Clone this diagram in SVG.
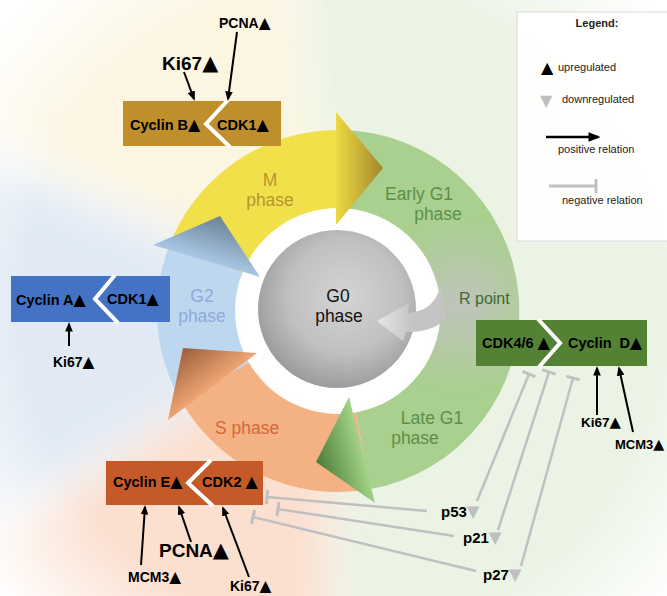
<svg xmlns="http://www.w3.org/2000/svg" width="667" height="596" viewBox="0 0 667 596">
<defs>
<style>
.bx{font-family:"Liberation Sans",Arial,sans-serif;font-weight:bold;font-size:14.5px;fill:#000}
.lb{font-family:"Liberation Sans",Arial,sans-serif;font-weight:bold;font-size:14px;fill:#000}
.t{font-family:"DejaVu Sans",sans-serif;font-size:1.1em}
.ph{font-family:"Liberation Sans",Arial,sans-serif;font-size:17.5px}
.lg{font-family:"Liberation Sans",Arial,sans-serif;font-size:11px;fill:#222}
.pos{stroke:#000;stroke-width:2;fill:none;marker-end:url(#ah)}
.neg{stroke:#C0C0C0;stroke-width:2.5;fill:none;marker-end:url(#bar)}
.chev{fill:none;stroke:#fff;stroke-width:4}
</style>
<marker id="ah" viewBox="0 0 10 8" refX="8" refY="4" markerWidth="4.8" markerHeight="3.8" orient="auto"><path d="M0,0 L10,4 L0,8 z" fill="#000"/></marker>
<marker id="bar" viewBox="0 0 4 16" refX="2" refY="8" markerWidth="4" markerHeight="16" markerUnits="userSpaceOnUse" orient="auto"><path d="M2,1 L2,15" stroke="#C0C0C0" stroke-width="3"/></marker>
<filter id="blur" x="-20%" y="-20%" width="140%" height="140%"><feGaussianBlur stdDeviation="22"/></filter>
<filter id="blur2" x="-30%" y="-30%" width="160%" height="160%"><feGaussianBlur stdDeviation="8"/></filter>
<radialGradient id="fadeG" cx="338" cy="311" r="440" gradientUnits="userSpaceOnUse"><stop offset="0" stop-color="#fff"/><stop offset="0.72" stop-color="#fff"/><stop offset="1" stop-color="#000"/></radialGradient>
<mask id="fade"><rect x="0" y="0" width="667" height="596" fill="url(#fadeG)"/></mask>
<linearGradient id="gY" x1="337" y1="168" x2="383" y2="168" gradientUnits="userSpaceOnUse"><stop offset="0" stop-color="#ECD843"/><stop offset="1" stop-color="#A4862C"/></linearGradient>
<linearGradient id="gG" x1="362" y1="450" x2="316" y2="462" gradientUnits="userSpaceOnUse"><stop offset="0" stop-color="#A2D387"/><stop offset="1" stop-color="#4B7B38"/></linearGradient>
<linearGradient id="gO" x1="212" y1="386" x2="183" y2="348" gradientUnits="userSpaceOnUse"><stop offset="0" stop-color="#EEA472"/><stop offset="1" stop-color="#9B5F3C"/></linearGradient>
<linearGradient id="gB" x1="206" y1="261" x2="220" y2="216" gradientUnits="userSpaceOnUse"><stop offset="0" stop-color="#A9C7E4"/><stop offset="1" stop-color="#6B8196"/></linearGradient>
<radialGradient id="gG0" cx="0.55" cy="0.42" r="0.6"><stop offset="0" stop-color="#D4D4D4"/><stop offset="0.6" stop-color="#C0C0C0"/><stop offset="1" stop-color="#9A9A9A"/></radialGradient>
<linearGradient id="gR" x1="377" y1="0" x2="412" y2="0" gradientUnits="userSpaceOnUse"><stop offset="0" stop-color="#E6E6E6"/><stop offset="1" stop-color="#C4C4C4"/></linearGradient>
<radialGradient id="gGray" cx="462" cy="305" r="90" gradientUnits="userSpaceOnUse"><stop offset="0" stop-color="#C2C2C2" stop-opacity="0.9"/><stop offset="1" stop-color="#C2C2C2" stop-opacity="0"/></radialGradient>
<clipPath id="clipGreen"><path d="M338,130 A181,181 0 0 1 369.4,489.3 L355.9,412.4 A103,103 0 0 0 338,208 Z"/></clipPath>
</defs>

<rect width="667" height="596" fill="#fff"/>

<g id="background" mask="url(#fade)">
<g filter="url(#blur)">
<polygon points="338,311 275,-300 1100,-300 1100,900 332,900" fill="#EAF3E4"/>
<polygon points="338,311 312,900 -400,900 -400,810" fill="#FBDFCF"/>
<polygon points="338,311 -400,760 -400,-10" fill="#E1EAF4"/>
<polygon points="338,311 -400,-60 -400,-300 252,-300" fill="#FBF5E1"/>
</g>
</g>
<circle cx="338" cy="311" r="112" fill="#fff" filter="url(#blur2)"/>

<g id="ring">
<path id="band-m" d="M167.9,249.1 A181,181 0 0 1 338,130 L338,208 A103,103 0 0 0 241.2,275.8 Z" fill="#F2E04B"/>
<path id="band-g1" d="M338,130 A181,181 0 0 1 369.4,489.3 L355.9,412.4 A103,103 0 0 0 338,208 Z" fill="#A9D08E"/>
<ellipse cx="462" cy="305" rx="90" ry="90" fill="url(#gGray)" clip-path="url(#clipGreen)"/>
<path id="band-s" d="M369.4,489.3 A181,181 0 0 1 181.3,401.5 L248.8,362.5 A103,103 0 0 0 355.9,412.4 Z" fill="#F4B183"/>
<path id="band-g2" d="M181.3,401.5 A181,181 0 0 1 170.2,243.2 L242.5,272.4 A103,103 0 0 0 248.8,362.5 Z" fill="#BDD7EE"/>
<polygon id="head-m" points="336,112 383,168 336,225" fill="url(#gY)"/>
<polygon id="head-g1" points="349,397 316,462 375,503" fill="url(#gG)"/>
<polygon id="head-s" points="257,353 183,348 168,420" fill="url(#gO)"/>
<polygon id="head-g2" points="260,277 220,216 153,245" fill="url(#gB)"/>
</g>

<g id="g0">
<circle cx="337" cy="309" r="79" fill="url(#gG0)"/>
<text class="ph" text-anchor="middle" fill="#111"><tspan x="338" y="302">G0</tspan><tspan x="339" y="322">phase</tspan></text>
</g>

<g id="rpoint">
<path d="M441,283 Q436,311 408,313 L409,303 L377,321 L403,341 L406,332 Q435,332 446,318 Z" fill="url(#gR)"/>
<text class="ph" x="459" y="304" fill="#3F6A35" style="font-size:16px">R point</text>
</g>

<g id="phase-labels">
<text class="ph" text-anchor="middle" fill="#B8952F"><tspan x="270" y="186">M</tspan><tspan x="270" y="206">phase</tspan></text>
<text class="ph" text-anchor="middle" fill="#5E8F49"><tspan x="419" y="200">Early G1</tspan><tspan x="438" y="220">phase</tspan></text>
<text class="ph" text-anchor="middle" fill="#8FAADC"><tspan x="202" y="302">G2</tspan><tspan x="202" y="322">phase</tspan></text>
<text class="ph" x="215" y="434" fill="#D2683A">S phase</text>
<text class="ph" text-anchor="middle" fill="#5E8F49"><tspan x="432" y="424">Late G1</tspan><tspan x="415" y="444">phase</tspan></text>
</g>

<g id="cyclinB-CDK1">
<rect x="123" y="101" width="158" height="45" fill="#BF8F2C"/>
<polyline class="chev" points="228,100 206,124 230,147"/>
<text class="bx" x="130" y="130">Cyclin B<tspan class="t">▲</tspan></text>
<text class="bx" x="217" y="130">CDK1<tspan class="t">▲</tspan></text>
</g>

<g id="cyclinA-CDK1">
<rect x="11" y="276" width="159" height="46" fill="#4472C4"/>
<polyline class="chev" points="115,275 95,299 118,323"/>
<text class="bx" x="16" y="305">Cyclin A<tspan class="t">▲</tspan></text>
<text class="bx" x="107" y="304">CDK1<tspan class="t">▲</tspan></text>
</g>

<g id="cdk46-cyclinD">
<rect x="476" y="320" width="171" height="46" fill="#548235"/>
<polyline class="chev" points="538,319 560,343 539,367"/>
<text class="bx" x="482" y="348">CDK4/6 <tspan class="t">▲</tspan></text>
<text class="bx" x="568" y="348" style="white-space:pre">Cyclin  D<tspan class="t">▲</tspan></text>
</g>

<g id="cyclinE-CDK2">
<rect x="106" y="461" width="157" height="44" fill="#C55A28"/>
<polyline class="chev" points="211,460 188,483 213,506"/>
<text class="bx" x="113" y="487">Cyclin E<tspan class="t">▲</tspan></text>
<text class="bx" x="202" y="487">CDK2 <tspan class="t">▲</tspan></text>
</g>

<g id="markers-labels">
<text class="lb" x="162" y="70" style="font-size:19px">Ki67<tspan class="t">▲</tspan></text>
<text class="lb" x="219" y="28">PCNA<tspan class="t">▲</tspan></text>
<text class="lb" x="53" y="367">Ki67<tspan class="t">▲</tspan></text>
<text class="lb" x="581" y="427" style="font-size:13.5px">Ki67<tspan class="t">▲</tspan></text>
<text class="lb" x="615" y="449" style="font-size:13px">MCM3<tspan class="t">▲</tspan></text>
<text class="lb" x="128" y="582">MCM3<tspan class="t">▲</tspan></text>
<text class="lb" x="159" y="557" style="font-size:19px">PCNA<tspan class="t">▲</tspan></text>
<text class="lb" x="230" y="591">Ki67<tspan class="t">▲</tspan></text>
<text class="lb" x="441" y="517" style="font-size:15px">p53<tspan class="t" fill="#BFBFBF">▼</tspan></text>
<text class="lb" x="463" y="543" style="font-size:15px">p21<tspan class="t" fill="#BFBFBF">▼</tspan></text>
<text class="lb" x="483" y="580" style="font-size:15px">p27<tspan class="t" fill="#BFBFBF">▼</tspan></text>
</g>

<g id="connectors">
<line class="pos" x1="184" y1="72" x2="194" y2="99"/>
<line class="pos" x1="237" y1="32" x2="228" y2="99"/>
<line class="pos" x1="69" y1="346" x2="69" y2="324"/>
<line class="pos" x1="597" y1="415" x2="597" y2="368"/>
<line class="pos" x1="633" y1="432" x2="619" y2="368"/>
<line class="pos" x1="141" y1="565" x2="145" y2="507"/>
<line class="pos" x1="191" y1="542" x2="179" y2="507"/>
<line class="pos" x1="249" y1="577" x2="223" y2="508"/>
<line class="neg" x1="427" y1="511" x2="267" y2="497"/>
<line class="neg" x1="454" y1="536" x2="278" y2="509"/>
<line class="neg" x1="476" y1="571" x2="253" y2="517"/>
<line class="neg" x1="477" y1="501" x2="529" y2="374"/>
<line class="neg" x1="498" y1="530" x2="549" y2="372"/>
<line class="neg" x1="521" y1="566" x2="573" y2="378"/>
</g>

<g id="legend">
<rect x="517" y="12" width="160" height="229" fill="#fff" fill-opacity="0.92" stroke="#DADADA" stroke-width="1"/>
<text class="lg" x="597" y="27" text-anchor="middle" font-weight="bold">Legend:</text>
<text x="541" y="73" style="font-family:'DejaVu Sans',sans-serif;font-size:16px;fill:#000">▲</text>
<text class="lg" x="558" y="71">upregulated</text>
<text x="540" y="106" style="font-family:'DejaVu Sans',sans-serif;font-size:16px;fill:#BFBFBF">▼</text>
<text class="lg" x="562" y="103">downregulated</text>
<line x1="546" y1="137" x2="598" y2="137" stroke="#000" stroke-width="2.5" marker-end="url(#ah)"/>
<text class="lg" x="558" y="153">positive relation</text>
<line x1="549" y1="186" x2="596" y2="186" stroke="#C0C0C0" stroke-width="3" marker-end="url(#bar)"/>
<text class="lg" x="562" y="204">negative relation</text>
</g>
</svg>
